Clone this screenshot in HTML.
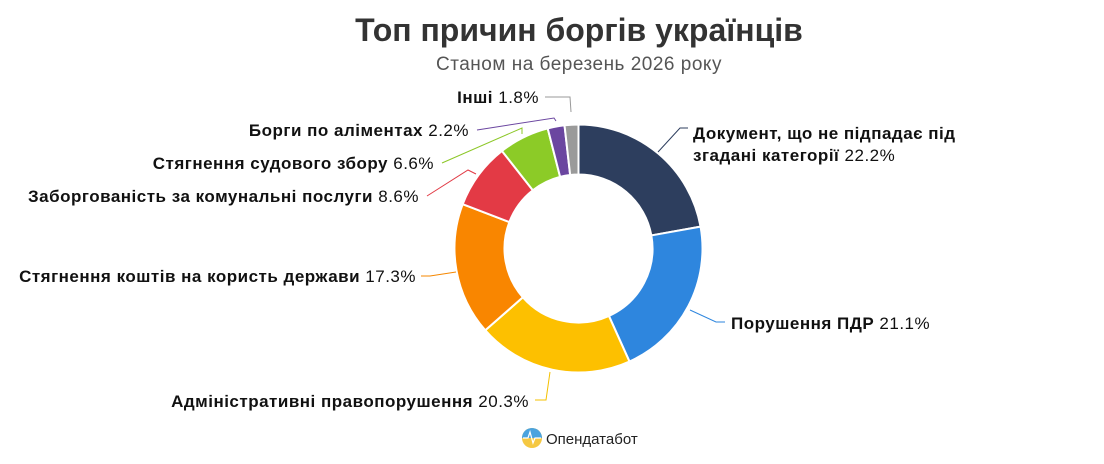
<!DOCTYPE html>
<html><head><meta charset="utf-8"><style>
body{margin:0;background:#fff;width:1104px;height:459px;overflow:hidden;font-family:"Liberation Sans",Arial,sans-serif}
</style></head><body>
<svg id="s" width="1104" height="459" viewBox="0 0 1104 459" xmlns="http://www.w3.org/2000/svg" font-family="Liberation Sans, Arial, sans-serif">
<text x="579" y="41" text-anchor="middle" font-size="32" font-weight="bold" fill="#333">Топ причин боргів українців</text>
<text x="579" y="70" text-anchor="middle" font-size="19" letter-spacing="0.5" fill="#555">Станом на березень 2026 року</text>
<g id="pie"></g>
<g fill="none" stroke-width="1">
<polyline points="658,152 680,128 688,128" stroke="#2d3e5e"/>
<polyline points="690,310 716,322 725,322" stroke="#2e86de"/>
<polyline points="550,372 546,400 535,400" stroke="#f5c000"/>
<polyline points="456,272 430,276 421,276" stroke="#f58700"/>
<polyline points="476,174 468,170 427,196" stroke="#e13a45"/>
<polyline points="522,134 522,128 442,163" stroke="#8cc727"/>
<polyline points="556,121 554,118 477,130" stroke="#6b46a0"/>
<polyline points="571,112 570,97 545,97" stroke="#999"/>
</g>
<g font-size="17" letter-spacing="0.5" fill="#111">
<text x="693" y="139" font-weight="bold">Документ, що не підпадає під</text>
<text x="693" y="161"><tspan font-weight="bold">згадані категорії</tspan> 22.2%</text>
<text x="731" y="329"><tspan font-weight="bold">Порушення ПДР</tspan> 21.1%</text>
<text x="529" y="407" text-anchor="end"><tspan font-weight="bold">Адміністративні правопорушення</tspan> 20.3%</text>
<text x="416" y="282" text-anchor="end"><tspan font-weight="bold">Стягнення коштів на користь держави</tspan> 17.3%</text>
<text x="419" y="202" text-anchor="end"><tspan font-weight="bold">Заборгованість за комунальні послуги</tspan> 8.6%</text>
<text x="434" y="169" text-anchor="end"><tspan font-weight="bold">Стягнення судового збору</tspan> 6.6%</text>
<text x="469" y="136" text-anchor="end"><tspan font-weight="bold">Борги по аліментах</tspan> 2.2%</text>
<text x="539" y="103" text-anchor="end"><tspan font-weight="bold">Інші</tspan> 1.8%</text>
</g>
<circle cx="532" cy="438" r="10" fill="#f5c842"/>
<path d="M522,438 A10,10 0 0 1 542,438 Z" fill="#4aa3df"/>
<polyline points="523,438 528,438 530,432 533,443 535,438 541,438" fill="none" stroke="#fff" stroke-width="1.2"/>
<text x="546" y="444" font-size="15" fill="#222">Опендатабот</text>
</svg>
<script>
var d=[[22.2,"#2d3e5e"],[21.1,"#2e86de"],[20.3,"#fdc000"],[17.3,"#f98600"],[8.6,"#e33a45"],[6.6,"#8ccb27"],[2.2,"#6b46a0"],[1.8,"#9a9a9a"]];
var tot=0;d.forEach(function(x){tot+=x[0]});
var cx=578.5,cy=248.5,R=124,r=74,a=0,g=document.getElementById("pie"),h="";
function p(rad,ang){return (cx+rad*Math.sin(ang)).toFixed(2)+","+(cy-rad*Math.cos(ang)).toFixed(2)}
d.forEach(function(x){var b=a+x[0]/tot*2*Math.PI,l=(b-a)>Math.PI?1:0;
h+='<path d="M'+p(R,a)+' A'+R+','+R+' 0 '+l+' 1 '+p(R,b)+' L'+p(r,b)+' A'+r+','+r+' 0 '+l+' 0 '+p(r,a)+' Z" fill="'+x[1]+'" stroke="#fff" stroke-width="2" stroke-linejoin="round"/>';a=b;});
g.innerHTML=h;
</script>
</body></html>
